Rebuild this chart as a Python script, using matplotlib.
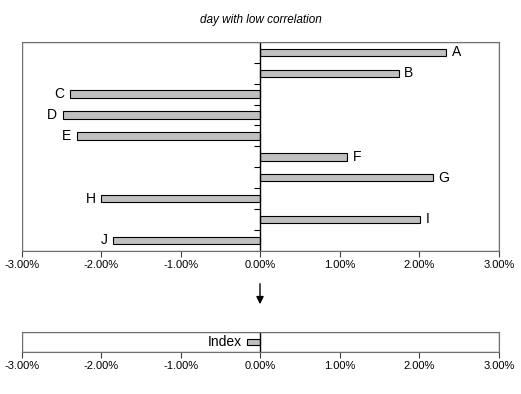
import matplotlib
matplotlib.use('Agg')
import matplotlib.pyplot as plt
from matplotlib.patches import Rectangle, FancyArrowPatch
from matplotlib.ticker import FuncFormatter
import numpy as np

plt.rcParams['font.family'] = ['Liberation Sans', 'DejaVu Sans']

# data (daily return, %)
names = ['A', 'B', 'C', 'D', 'E', 'F', 'G', 'H', 'I', 'J']
values = [2.34, 1.74, -2.40, -2.49, -2.31, 1.09, 2.17, -2.00, 2.01, -1.85]
index_name = ['Index']
index_value = [-0.17]
xticks = [-3, -2, -1, 0, 1, 2, 3]

fig = plt.figure(figsize=(5.21, 3.94), dpi=100)
pct = FuncFormatter(lambda v, p: '%.2f%%' % v)


def style_axis(ax, n):
    ax.set_xlim(-3, 3)
    ax.set_ylim(n - 0.5, -0.5)
    for s in ax.spines.values():
        s.set_color('#707070')
    ax.spines['left'].set_visible(False)
    ax.add_patch(Rectangle((0, 0), 1, 1, transform=ax.transAxes, fill=False,
                           edgecolor='#707070', linewidth=1.0, zorder=5))
    ax.axvline(0, color='black', linewidth=1.0, zorder=4)
    ax.set_xticks(xticks)
    ax.xaxis.set_major_formatter(pct)
    ax.tick_params(axis='x', direction='out', length=4, color='#404040',
                   labelsize=8, pad=3)
    ax.set_yticks([])


# main chart
ax = fig.add_axes([0.0422, 0.3637, 0.9155, 0.5297])
ypos = np.arange(len(names))
bars = ax.barh(ypos, values, height=0.36, color='#c0c0c0',
               edgecolor='black', linewidth=0.8, zorder=3)
ax.bar_label(bars, labels=names, padding=4, fontsize=10)
style_axis(ax, len(names))
# small ticks on the zero line between categories
ax.plot(np.zeros(len(names) - 1), ypos[:-1] + 0.5, ls='none', marker=0,
        markersize=4, color='black', markeredgewidth=0.8, zorder=4)
ax.set_title('day with low correlation', fontsize=8.5, style='italic', pad=14)

# index chart
ax2 = fig.add_axes([0.0422, 0.1074, 0.9155, 0.0492])
b2 = ax2.barh([0], index_value, height=0.36, color='#c0c0c0',
              edgecolor='black', linewidth=0.8, zorder=3)
ax2.bar_label(b2, labels=index_name, padding=4, fontsize=10)
style_axis(ax2, 1)

# arrow between the two charts
fig.patches.append(FancyArrowPatch(
    (260 / 521, 1 - 281 / 394), (260 / 521, 1 - 307 / 394),
    transform=fig.transFigure, arrowstyle='-|>', mutation_scale=11,
    color='black', linewidth=1.0))

fig.savefig('out.png', dpi=100)
